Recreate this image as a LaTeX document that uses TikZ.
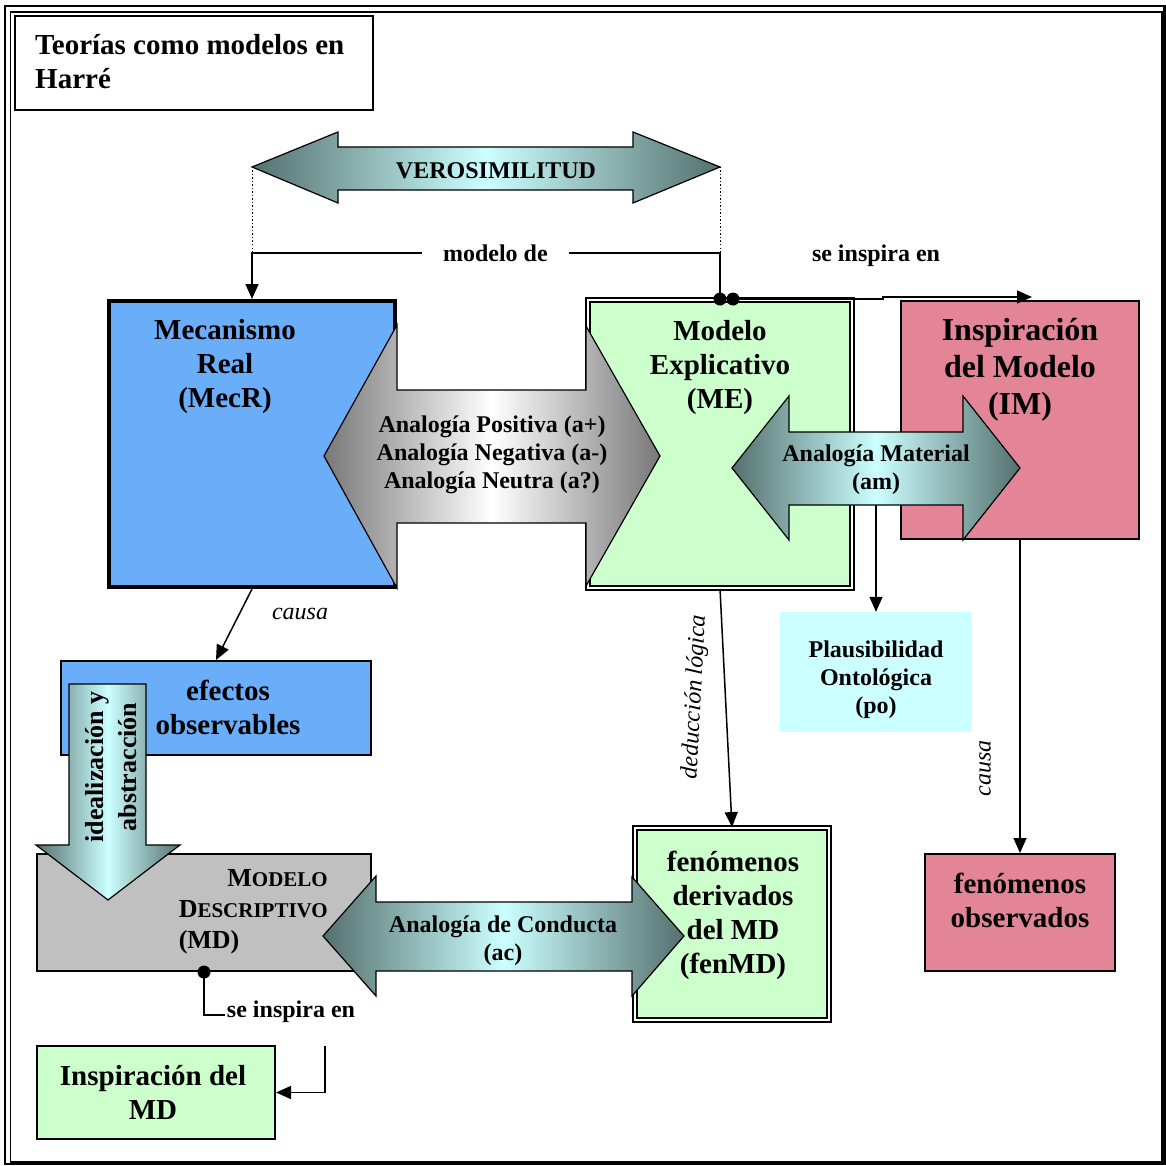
\documentclass[tikz,border=0pt]{standalone}
\usepackage{fontspec}
\setmainfont{Liberation Serif}
\usepackage{xcolor}
\usepackage{tikz}
\usetikzlibrary{arrows.meta,calc}
\definecolor{harreBlue}{RGB}{106,174,250}
\definecolor{harreGreen}{RGB}{204,255,204}
\definecolor{harrePink}{RGB}{227,133,150}
\definecolor{harreCyan}{RGB}{204,255,255}
\definecolor{harreGray}{RGB}{192,192,192}
\definecolor{tealDark}{RGB}{84,112,110}
\definecolor{tealLight}{RGB}{204,255,255}
\definecolor{steelDark}{RGB}{120,120,120}
\newcommand{\fsz}[2]{\fontsize{#1}{#2}\selectfont}
\newcommand{\smallcap}[2]{#1{\fsz{21}{25}#2}}
\tikzset{
  box/.style={rectangle, draw=black, line width=2pt, inner sep=0pt},
  dblbox/.style={rectangle, draw=black, line width=1.6pt, double=white, double distance=2.5pt,
    fill=harreGreen, inner sep=0pt},
  boxtxt/.style={font=\bfseries\fsz{29}{34}, align=center, inner sep=0pt},
  bigtxt/.style={font=\bfseries\fsz{32}{37}, align=center, inner sep=0pt},
  lbltxt/.style={font=\bfseries\fsz{24}{28}, align=center, inner sep=0pt},
  ittxt/.style={font=\itshape\fsz{24}{28}, inner sep=0pt},
  tealarrow/.style={draw=black, line width=1.2pt, left color=tealDark, right color=tealDark,
    middle color=tealLight},
  steelarrow/.style={draw=black, line width=1.2pt, left color=steelDark, right color=steelDark,
    middle color=white},
  conn/.style={draw=black, line width=1.5pt},
  arr/.style={conn, -{Triangle[length=15pt,width=13pt]}},
}
\begin{document}
\begin{tikzpicture}[x=1pt,y=-1pt]
  \useasboundingbox (0,0) rectangle (1166,1166);
  % frame
  \draw[line width=2.2pt] (5,6) rectangle (1164.5,1164);
  \draw[line width=1.8pt] (10.5,12) rectangle (1162,1162);
  \node[box, minimum width=358, minimum height=94] (title) at (194,63) {};
  \node[boxtxt, align=left, anchor=north west] (titletxt) at (35,34) {Teorías como modelos en\\Harré};

  % boxes
  \node[box, line width=4pt, fill=harreBlue, minimum width=286, minimum height=286] (mecr) at (252,444) {};
  \node[dblbox, minimum width=264.3, minimum height=288.3] (me) at (720,444) {};
  \node[box, fill=harrePink, minimum width=238, minimum height=238] (im) at (1020,420) {};
  \node[rectangle, fill=harreCyan, minimum width=192, minimum height=120, inner sep=0pt] (plaus) at (876,672) {};
  \node[box, fill=harreBlue, minimum width=310, minimum height=94] (efectos) at (216,708) {};
  \node[box, fill=harreGray, minimum width=334, minimum height=117] (md) at (204,912.5) {};
  \node[dblbox, minimum width=194.3, minimum height=192.3] (fenmd) at (732,924) {};
  \node[box, fill=harrePink, minimum width=190, minimum height=117] (fenobs) at (1020,912.5) {};
  \node[box, fill=harreGreen, minimum width=238, minimum height=93] (insmd) at (156,1092.5) {};

  % block arrows
  \path[tealarrow] (252,167) -- (338,132) -- (338,147) -- (633,147) -- (633,132) -- (720,167)
    -- (633,203) -- (633,190) -- (338,190) -- (338,203) -- cycle;
  \path[steelarrow] (324,456) -- (397,325) -- (397,390) -- (586,390) -- (586,326) -- (660,456)
    -- (586,586) -- (586,523) -- (397,523) -- (397,588) -- cycle;
  \path[tealarrow] (732,468) -- (789,396) -- (789,432) -- (963,432) -- (963,396) -- (1020,468)
    -- (963,540) -- (963,505) -- (789,505) -- (789,540) -- cycle;
  \path[tealarrow] (69,684) -- (146,684) -- (146,845) -- (180,845) -- (108,900) -- (36,845)
    -- (69,845) -- cycle;
  \path[tealarrow] (323,936) -- (376,876) -- (376,902) -- (632,902) -- (632,877) -- (684,936)
    -- (632,996) -- (632,971) -- (376,971) -- (376,996) -- cycle;
  \coordinate (verL) at (252,167);
  \coordinate (verR) at (720,167);
  \coordinate (amfoot) at (876,505);

  % texts
  \node[lbltxt] (verlbl) at (496,171) {VEROSIMILITUD};
  \node[boxtxt] (mecrtxt) at (225,367) {Mecanismo\\Real\\(MecR)};
  \node[boxtxt] (metxt) at (720,368) {Modelo\\Explicativo\\(ME)};
  \node[bigtxt] (imtxt) at (1020,370) {Inspiración\\del Modelo\\(IM)};
  \node[lbltxt] (anatxt) at (492,455) {Analogía Positiva (a+)\\Analogía Negativa (a-)\\Analogía Neutra (a?)};
  \node[lbltxt] (amtxt) at (876,470) {Analogía Material\\(am)};
  \node[lbltxt] (plaustxt) at (876,680) {Plausibilidad\\Ontológica\\(po)};
  \node[boxtxt] (efectostxt) at (228,707) {efectos\\observables};
  \node[boxtxt, font=\bfseries\fsz{26}{33}, rotate=90] (idealtxt) at (111,767) {idealización y\\abstracción};
  \node[boxtxt, font=\bfseries\fsz{26}{31}, anchor=east] (mdtxt) at (328,911)
    {\begin{tabular}{@{}r@{}}\smallcap{M}{ODELO}\\\smallcap{D}{ESCRIPTIVO}\\\multicolumn{1}{@{}l@{}}{(MD)}\end{tabular}};
  \node[lbltxt] (actxt) at (503,941) {Analogía de Conducta\\(ac)};
  \node[boxtxt] (fenmdtxt) at (733,915) {fenómenos\\derivados\\del MD\\(fenMD)};
  \node[boxtxt] (fenobstxt) at (1020,900) {fenómenos\\observados};
  \node[boxtxt] (insmdtxt) at (153,1092) {Inspiración del\\MD};

  % connectors
  \draw[conn, dotted, line width=1pt] (verL) -- ++(0,86);
  \draw[conn, dotted, line width=1pt] (verR) -- (me.north);
  \draw[arr] (me.north) -- ++(0,-46) -| node[lbltxt, fill=white, inner xsep=21pt, inner ysep=4pt, pos=0.24] {modelo de} (mecr.north);
  \coordinate (mesrc) at ([xshift=13]me.north);
  \draw[arr] (mesrc) -- ++(150,0) |- ([xshift=12,yshift=3]im.north);
  \node[lbltxt] (insplbl) at (876,256) {se inspira en};
  \fill (me.north) circle (6.5);
  \fill (mesrc) circle (6.5);

  \draw[arr] (mecr.south) -- (efectos.north);
  \node[ittxt] (causa1) at (300,614) {causa};
  \draw[arr] (me.south) -- (fenmd.north);
  \node[ittxt, rotate=87] (deduc) at (695,697) {deducción lógica};
  \draw[arr] (amfoot) -- (plaus.north);
  \draw[arr] (im.south) -- (fenobs.north);
  \node[ittxt, rotate=90] (causa2) at (985,768) {causa};

  \node[lbltxt] (mdinsp) at (291,1012) {se inspira en};
  \draw[conn] (md.south) |- ([xshift=-2,yshift=-3]mdinsp.west);
  \fill (md.south) circle (6.5);
  \coordinate (mdinspend) at (325,1046);
  \draw[arr] (mdinspend) |- (insmd.east);
\end{tikzpicture}
\end{document}
